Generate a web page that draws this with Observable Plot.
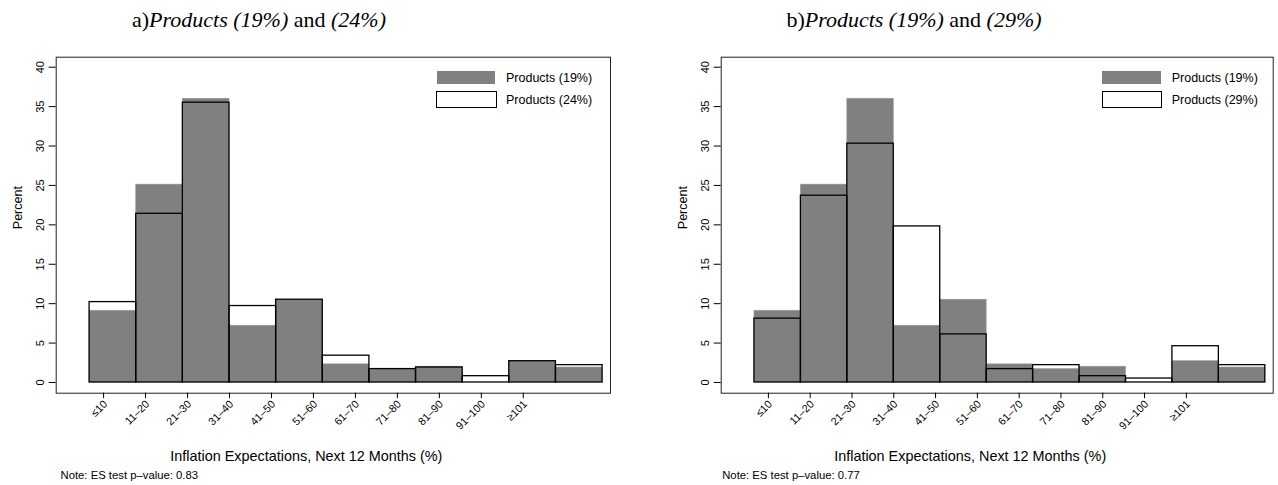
<!DOCTYPE html>
<html><head><meta charset="utf-8">
<script src="https://cdn.jsdelivr.net/npm/d3@7"></script>
<script src="https://cdn.jsdelivr.net/npm/@observablehq/plot@0.6"></script>
<style>
body{margin:0;background:#fff;}
#wrap{position:relative;width:1278px;height:485px;overflow:hidden;font-family:"Liberation Sans",Arial,sans-serif;color:#000;}
.panel{position:absolute;top:0;}
.title{position:absolute;top:6px;font-family:"Liberation Serif",serif;font-size:22px;white-space:nowrap;transform:translateX(-50%);line-height:28px;}
.legtxt{position:absolute;font-size:12.5px;white-space:nowrap;line-height:14px;transform:translateY(-50%);}
.sw{position:absolute;box-sizing:border-box;}
</style></head><body><div id="wrap"></div>
<script>
const categories = ["≤10","11–20","21–30","31–40","41–50","51–60","61–70","71–80","81–90","91–100","≥101"];
const products19 = [9.1, 25.1, 36.0, 7.2, 10.5, 2.3, 1.7, 2.0, 0, 2.7, 1.9];
const products24 = [10.2, 21.4, 35.5, 9.7, 10.5, 3.4, 1.7, 1.9, 0.8, 2.7, 2.2];
const products29 = [8.1, 23.7, 30.3, 19.8, 6.1, 1.7, 2.2, 0.8, 0.5, 4.6, 2.2];
const yTicks = [0, 5, 10, 15, 20, 25, 30, 35, 40];
const xTickAt = [0.3, 1.2, 2.1, 3.0, 3.9, 4.8, 5.7, 6.6, 7.5, 8.4, 9.3];
const xTitle = "Inflation Expectations, Next 12 Months (%)";
const yTitle = "Percent";
const panelTitles = [
  {pre: "a)", it1: "Products (19%)", mid: " and ", it2: "(24%)"},
  {pre: "b)", it1: "Products (19%)", mid: " and ", it2: "(29%)"}
];
const legendLabels = [["Products (19%)", "Products (24%)"], ["Products (19%)", "Products (29%)"]];
const notes = ["Note: ES test p\u2013value: 0.83", "Note: ES test p\u2013value: 0.77"];

const wrap = document.getElementById("wrap");

function panel(k, other, cfg) {
  const rows = categories.map((c, i) => ({cat: c, i0: i, i1: i + 1, zero: 0, a: products19[i], b: other[i]}));
  const chart = Plot.plot({
    width: 639, height: 485,
    marginLeft: cfg.ml, marginRight: cfg.mr, marginTop: 56.7, marginBottom: 92.3,
    x: {domain: [-0.716, 11.17], axis: null},
    y: {domain: [-1.36, 41.27], axis: null},
    style: {fontFamily: '"Liberation Sans", Arial, sans-serif', fontSize: "10px", color: "#000", background: "transparent"},
    marks: [
      Plot.rect(rows, {x1: "i0", x2: "i1", y1: "zero", y2: "a", fill: "#808080", stroke: "#9a9a9a", strokeWidth: 0.6}),
      Plot.rect(rows, {x1: "i0", x2: "i1", y1: "zero", y2: "b", fill: "none", stroke: "#000", strokeWidth: 1.3}),
      Plot.frame({stroke: "#222", strokeWidth: 1}),
      Plot.axisY(yTicks, {tickSize: 7, tickFormat: () => "", label: null}),
      Plot.text(yTicks, {y: d => d, text: d => String(d), frameAnchor: "left", dx: -16, rotate: -90,
        textAnchor: "middle", lineAnchor: "middle", fontSize: 11}),
      Plot.axisX(xTickAt, {tickSize: 5.5, tickFormat: () => "", label: null}),
      Plot.text(xTickAt, {x: d => d, text: d => categories[xTickAt.indexOf(d)], frameAnchor: "bottom", dx: 2, dy: 9,
        rotate: -45, textAnchor: "end", lineAnchor: "middle", fontSize: 10.8}),
      Plot.text([yTitle], {frameAnchor: "left", rotate: -90, dx: -38, dy: 4, fontSize: 12.5}),
      Plot.text([xTitle], {frameAnchor: "bottom", dx: -27, dy: 68, lineAnchor: "bottom", fontSize: 14.4}),
      Plot.text([notes[k]], {frameAnchor: "bottom-left", dx: cfg.noteDx, dy: 86, lineAnchor: "bottom", textAnchor: "start", fontSize: 11.3})
    ]
  });
  const div = document.createElement("div");
  div.className = "panel";
  div.style.left = cfg.left + "px";
  div.appendChild(chart);
  wrap.appendChild(div);

  const t = panelTitles[k];
  const title = document.createElement("div");
  title.className = "title";
  title.style.left = cfg.titleX + "px";
  title.innerHTML = `${t.pre}<i>${t.it1}</i>${t.mid}<i>${t.it2}</i>`;
  wrap.appendChild(title);

  const s1 = document.createElement("div");
  s1.className = "sw";
  Object.assign(s1.style, {left: cfg.legX + "px", top: "70.7px", width: "58.3px", height: "13.6px", background: "#808080"});
  const s2 = document.createElement("div");
  s2.className = "sw";
  Object.assign(s2.style, {left: (cfg.legX - 0.7) + "px", top: "91px", width: "60.7px", height: "17.3px", border: "1.3px solid #000", background: "#fff"});
  wrap.appendChild(s1); wrap.appendChild(s2);
  [[legendLabels[k][0], 78], [legendLabels[k][1], 100]].forEach(([txt, y]) => {
    const l = document.createElement("div");
    l.className = "legtxt";
    l.style.left = cfg.legTextX + "px";
    l.style.top = y + "px";
    l.textContent = txt;
    wrap.appendChild(l);
  });
}

panel(0, products24, {left: 0, ml: 55.7, mr: 29, noteDx: 4.3, titleX: 259, legX: 436.7, legTextX: 506});
panel(1, products29, {left: 639, ml: 81.7, mr: 5.3, noteDx: 1, titleX: 914, legX: 1102.3, legTextX: 1171.7});
</script></body></html>
